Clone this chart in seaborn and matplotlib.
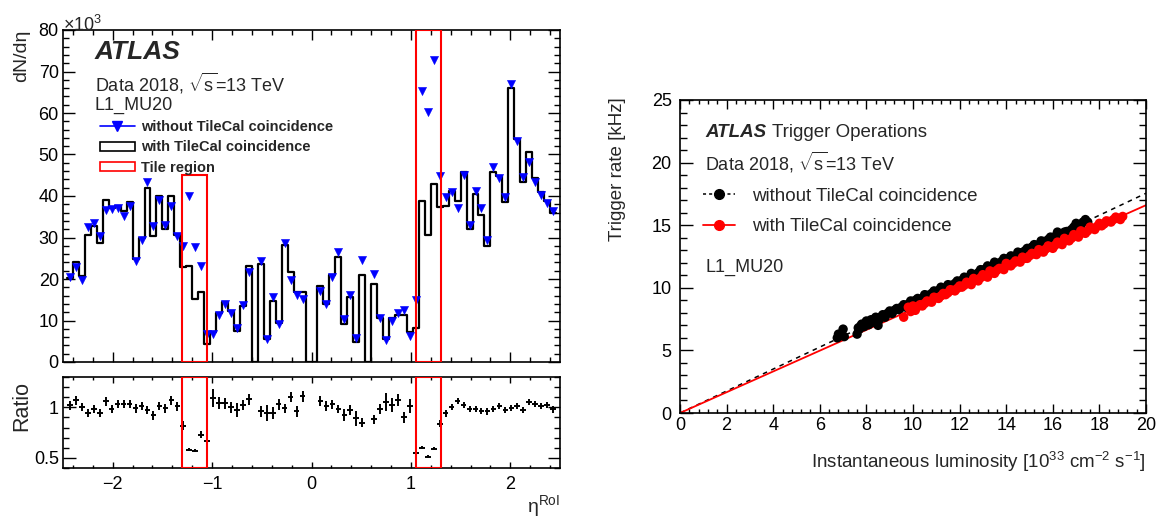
import numpy as np
import pandas as pd
import seaborn as sns
import matplotlib.pyplot as plt
from matplotlib.lines import Line2D
from matplotlib.patches import Patch, Rectangle
from matplotlib.ticker import MultipleLocator, FormatStrFormatter

# eta^RoI binning: 82 bins of 0.06 between -2.46 and 2.46
eta_edges = np.round(np.arange(-2.46, 2.4601, 0.06), 3)
eta_centers = 0.5 * (eta_edges[:-1] + eta_edges[1:])

# dN/deta [x10^3] with TileCal coincidence (black histogram)
with_tile = [20.2, 24.2, 20.7, 30.7, 32.7, 28.7, 39.0, 37.0, 37.5, 36.5,
             38.5, 24.8, 29.8, 42.0, 30.3, 39.9, 32.1, 39.9, 30.6, 22.8,
             23.1, 15.2, 16.8, 4.3, 7.3, 11.9, 14.4, 12.2, 7.5, 13.5,
             23.2, 0.0, 23.6, 5.5, 14.8, 9.5, 28.1, 21.6, 16.8, 16.8,
             0.0, 0.0, 18.4, 14.0, 21.0, 25.4, 9.1, 15.6, 4.8, 21.0,
             0.0, 18.8, 10.7, 5.5, 10.7, 11.4, 11.4, 7.3, 8.1, 38.9,
             30.6, 42.9, 37.4, 37.7, 41.3, 38.9, 45.9, 32.0, 40.5, 35.5,
             28.0, 45.9, 44.9, 38.5, 66.0, 53.8, 43.3, 50.6, 44.3, 40.9,
             38.9, 36.0]

# dN/deta [x10^3] without TileCal coincidence (blue triangles)
nan = np.nan
without_tile = [20.6, 22.8, 19.8, 32.5, 33.5, 30.3, 36.7, 36.8, 37.1, 35.1,
                37.7, 24.4, 29.4, 43.4, 32.7, 39.1, 33.1, 37.6, 30.3, 27.9,
                40.0, 27.7, 23.2, 6.7, 6.7, 11.4, 14.0, 11.9, 8.3, 13.7,
                21.6, nan, 24.4, 5.5, 15.7, 9.1, 28.6, 19.8, 16.1, 15.3,
                nan, nan, 17.2, 14.0, 20.4, 26.5, 10.3, 16.2, 5.7, 24.6,
                nan, 21.2, 10.7, 5.3, 9.8, 11.7, 12.6, 6.3, 15.0, 65.3,
                60.2, 72.7, 44.9, 39.7, 41.0, 37.1, 45.1, 33.1, 41.3, 37.1,
                29.4, 47.1, 44.4, 39.8, 67.1, 53.2, 44.5, 48.1, 43.3, 40.3,
                38.2, 36.3]

# ratio panel
ratio = [1.02, 1.07, 1.00, 0.94, 0.98, 0.94, 1.06, 0.98, 1.03, 1.03,
         1.03, 0.99, 1.01, 0.97, 0.92, 1.01, 0.99, 1.07, 1.01, 0.82,
         0.58, 0.57, 0.73, 0.67, 1.09, 1.04, 1.04, 1.00, 0.97, 1.02,
         1.08, nan, 0.96, 0.94, 0.94, 1.03, 0.99, 1.10, 0.96, 1.11,
         nan, nan, 1.06, 1.01, 1.03, 0.98, 0.92, 0.97, 0.89, 0.85,
         nan, 0.88, 0.98, 1.05, 1.02, 1.07, 0.90, 1.01, 0.55, 0.60,
         0.51, 0.59, 0.84, 0.94, 1.00, 1.06, 1.02, 0.98, 0.98, 0.96,
         0.96, 0.98, 1.01, 0.97, 0.99, 1.01, 0.97, 1.05, 1.03, 1.01,
         1.02, 0.98]
ratio_err = [0.045, 0.045, 0.04, 0.04, 0.04, 0.04, 0.045, 0.04, 0.04, 0.04,
             0.04, 0.045, 0.04, 0.04, 0.045, 0.04, 0.045, 0.045, 0.045, 0.04,
             0.015, 0.015, 0.035, 0.06, 0.09, 0.06, 0.055, 0.055, 0.07, 0.05,
             0.055, 0.0, 0.055, 0.08, 0.06, 0.055, 0.045, 0.05, 0.055, 0.055,
             0.0, 0.0, 0.05, 0.05, 0.045, 0.04, 0.06, 0.05, 0.07, 0.04,
             0.0, 0.04, 0.05, 0.09, 0.07, 0.06, 0.05, 0.07, 0.015, 0.015,
             0.015, 0.015, 0.035, 0.033, 0.03, 0.03, 0.03, 0.03, 0.03, 0.03,
             0.033, 0.03, 0.03, 0.03, 0.03, 0.03, 0.03, 0.03, 0.03, 0.03,
             0.03, 0.033]

# Tile regions in eta
tile_lo = [-1.3, 1.05]
tile_hi = [-1.05, 1.3]
tile_top = [45, 80]

# trigger rate vs luminosity (per lumi block)
lumi_without = [6.75, 6.8, 7.0, 7.05, 7.6, 7.65, 7.7, 7.8, 7.9, 8.0,
                8.1, 8.2, 8.3, 8.4, 8.5, 8.55, 8.7, 8.8, 9.0, 9.1,
                9.3, 9.4, 9.6, 9.7, 9.9, 10.0, 10.2, 10.4, 10.5, 10.7,
                10.9, 11.0, 11.2, 11.4, 11.5, 11.7, 11.9, 12.0, 12.2, 12.4,
                12.5, 12.7, 12.9, 13.0, 13.2, 13.4, 13.5, 13.7, 13.9, 14.0,
                14.2, 14.4, 14.5, 14.7, 14.9, 15.0, 15.2, 15.4, 15.5, 15.7,
                15.9, 16.0, 16.2, 16.3, 16.5, 16.7, 16.9, 17.0, 17.1, 17.3,
                17.4, 17.5,
                7.75, 7.95, 8.15, 8.35, 8.65, 8.9, 9.2, 9.5, 9.8, 10.1,
                10.3, 10.6, 10.8, 11.1, 11.3, 11.6, 11.8, 12.1, 12.3, 12.6,
                12.8, 13.1, 13.3, 13.6, 13.8, 14.1, 14.3, 14.6, 14.8, 15.1,
                15.3, 15.6, 15.8, 16.1, 16.4, 16.6, 16.8, 17.2]
rate_without = [6.0, 6.3, 6.7, 6.1, 6.3, 6.8, 6.7, 7.1, 6.9, 7.35,
                7.05, 7.45, 7.25, 7.65, 7.0, 7.45, 7.85, 7.65, 8.15, 7.95,
                8.35, 8.25, 8.65, 8.45, 8.95, 8.75, 9.15, 9.05, 9.45, 9.25,
                9.75, 9.55, 10.05, 9.85, 10.25, 10.15, 10.55, 10.45, 10.85, 10.75,
                11.15, 10.95, 11.45, 11.25, 11.75, 11.55, 12.05, 11.85, 12.35, 12.15,
                12.55, 12.45, 12.85, 12.75, 13.15, 13.05, 13.45, 13.35, 13.75, 13.65,
                14.05, 13.85, 14.45, 14.05, 14.45, 14.35, 14.85, 15.15, 14.65, 15.25,
                15.45, 15.25,
                6.95, 7.15, 7.3, 7.5, 7.7, 7.95, 8.2, 8.45, 8.7, 9.0,
                9.1, 9.4, 9.55, 9.8, 9.95, 10.2, 10.35, 10.6, 10.8, 11.05,
                11.2, 11.5, 11.65, 11.95, 12.1, 12.35, 12.5, 12.8, 12.95, 13.25,
                13.4, 13.7, 13.85, 14.1, 14.3, 14.5, 14.65, 15.0]
lumi_with = [9.6, 9.8, 9.9, 10.0, 10.1, 10.3, 10.4, 10.6, 10.8, 10.9,
             11.1, 11.3, 11.4, 11.6, 11.8, 12.0, 12.1, 12.3, 12.5, 12.6,
             12.8, 13.0, 13.2, 13.3, 13.5, 13.7, 13.9, 14.0, 14.2, 14.4,
             14.6, 14.7, 14.9, 15.1, 15.3, 15.4, 15.6, 15.8, 16.0, 16.2,
             16.4, 16.5, 16.7, 16.9, 17.1, 17.2, 17.4, 17.6, 17.8, 18.0,
             18.1, 18.3, 18.5, 18.7, 18.9, 19.0,
             9.85, 10.05, 10.2, 10.5, 10.7, 11.0, 11.2, 11.5, 11.7, 11.9,
             12.2, 12.4, 12.7, 12.9, 13.1, 13.4, 13.6, 13.8, 14.1, 14.3,
             14.5, 14.8, 15.0, 15.2, 15.5, 15.7, 15.9, 16.1, 16.3, 16.6,
             16.8, 17.0, 17.3, 17.5, 17.7, 17.9, 18.2, 18.4, 18.6, 18.8]
rate_with = [7.65, 8.45, 8.1, 8.55, 8.2, 8.65, 8.55, 8.95, 8.85, 9.25,
             9.15, 9.55, 9.45, 9.85, 9.75, 10.15, 10.05, 10.45, 10.25, 10.75,
             10.55, 11.05, 10.85, 11.35, 11.15, 11.55, 11.45, 11.95, 11.75, 12.15,
             12.05, 12.45, 12.35, 12.75, 12.65, 13.05, 12.85, 13.35, 13.15, 13.65,
             13.45, 13.95, 13.75, 14.25, 14.05, 14.55, 14.35, 14.85, 14.65, 15.15,
             14.95, 15.35, 15.25, 15.65, 15.45, 15.7,
             8.35, 8.4, 8.5, 8.75, 8.9, 9.2, 9.35, 9.6, 9.8, 9.95,
             10.2, 10.35, 10.6, 10.8, 10.95, 11.2, 11.4, 11.55, 11.8, 11.95,
             12.1, 12.35, 12.55, 12.7, 12.9, 13.1, 13.25, 13.4, 13.55, 13.8,
             13.95, 14.15, 14.4, 14.55, 14.75, 14.9, 15.1, 15.3, 15.45, 15.55]
fit_lumi = [0.0, 20.0]
fit_without = [0.0, 17.55]
fit_with = [0.0, 16.6]

sns.set_style("ticks")
plt.rcParams["font.family"] = ["Liberation Sans", "DejaVu Sans"]
plt.rcParams["mathtext.fontset"] = "custom"
plt.rcParams["mathtext.rm"] = "Liberation Sans"
plt.rcParams["mathtext.it"] = "Liberation Sans:italic"
plt.rcParams["mathtext.bf"] = "Liberation Sans:bold"

W, H = 1158, 519
fig = plt.figure(figsize=(W / 100, H / 100), dpi=100)


def px_axes(x0, y0, x1, y1):
    return fig.add_axes([x0 / W, 1 - y1 / H, (x1 - x0) / W, (y1 - y0) / H])


ax_top = px_axes(63, 30, 560, 362)
ax_rat = px_axes(63, 377, 560, 468)
ax_r = px_axes(680, 100, 1146, 413)

df = pd.DataFrame({"eta": eta_centers, "with": with_tile, "without": without_tile,
                   "ratio": ratio, "err": ratio_err})

# ---- left: eta distribution
sns.histplot(data=df, x="eta", weights="with", bins=eta_edges.tolist(), element="step",
             fill=False, color="black", linewidth=1.6, ax=ax_top)
sns.scatterplot(data=df, x="eta", y="without", marker="v", color="blue", s=34,
                edgecolor="blue", linewidth=0.4, ax=ax_top, zorder=3)
for lo, hi, top in zip(tile_lo, tile_hi, tile_top):
    ax_top.add_patch(Rectangle((lo, 0), hi - lo, top, fill=False, ec="red", lw=1.5, zorder=4))
    ax_rat.add_patch(Rectangle((lo, 0.4), hi - lo, 0.9, fill=False, ec="red", lw=1.5, zorder=4))

ax_top.set_xlim(-2.5, 2.5)
ax_top.set_ylim(0, 80)
ax_top.xaxis.set_major_locator(MultipleLocator(1))
ax_top.xaxis.set_minor_locator(MultipleLocator(0.2))
ax_top.yaxis.set_major_locator(MultipleLocator(10))
ax_top.yaxis.set_minor_locator(MultipleLocator(2))
ax_top.tick_params(labelbottom=False)

ax_top.text(0.064, 0.934, "ATLAS", transform=ax_top.transAxes, fontsize=19,
            fontweight="bold", fontstyle="italic", va="center")
ax_top.text(0.064, 0.840, r"Data 2018, $\sqrt{\mathrm{s}}$=13 TeV", transform=ax_top.transAxes,
            fontsize=13, va="center")
ax_top.text(0.064, 0.772, "L1_MU20", transform=ax_top.transAxes, fontsize=13, va="center")
handles = [Line2D([], [], color="blue", marker="v", ms=7, lw=1.2),
           Patch(facecolor="none", edgecolor="black", lw=1.2),
           Patch(facecolor="none", edgecolor="red", lw=1.2)]
labels = ["without TileCal coincidence", "with TileCal coincidence", "Tile region"]
ax_top.legend(handles, labels, loc="upper left", bbox_to_anchor=(0.074, 0.728),
              frameon=False, prop={"size": 10.5, "weight": "bold"}, handlelength=2.4,
              handleheight=0.6, handletextpad=0.45, labelspacing=0.42, borderpad=0,
              borderaxespad=0)

# ---- left: ratio
ax_rat.errorbar(df["eta"], df["ratio"], yerr=df["err"], xerr=0.028, fmt="none",
                ecolor="black", elinewidth=1.4)
ax_rat.set_xlim(-2.5, 2.5)
ax_rat.set_ylim(0.4, 1.3)
ax_rat.xaxis.set_major_locator(MultipleLocator(1))
ax_rat.xaxis.set_minor_locator(MultipleLocator(0.2))
ax_rat.yaxis.set_major_locator(MultipleLocator(0.5))
ax_rat.yaxis.set_minor_locator(MultipleLocator(0.1))
ax_rat.yaxis.set_major_formatter(FormatStrFormatter("%g"))

# ---- right: rate vs luminosity
sns.lineplot(x=fit_lumi, y=fit_without, color="black", linestyle=(0, (3, 3)), lw=1.1, ax=ax_r)
sns.lineplot(x=fit_lumi, y=fit_with, color="red", lw=1.3, ax=ax_r)
sns.scatterplot(x=lumi_without, y=rate_without, color="black", s=46, edgecolor="none", ax=ax_r, zorder=3)
sns.scatterplot(x=lumi_with, y=rate_with, color="red", s=46, edgecolor="none", ax=ax_r, zorder=4)
ax_r.set_xlim(0, 20)
ax_r.set_ylim(0, 25)
ax_r.xaxis.set_major_locator(MultipleLocator(2))
ax_r.xaxis.set_minor_locator(MultipleLocator(0.4))
ax_r.yaxis.set_major_locator(MultipleLocator(5))
ax_r.yaxis.set_minor_locator(MultipleLocator(1))

ax_r.text(0.054, 0.895, "ATLAS", transform=ax_r.transAxes, fontsize=13.5,
          fontweight="bold", fontstyle="italic", va="center")
ax_r.text(0.197, 0.895, "Trigger Operations", transform=ax_r.transAxes, fontsize=13.5, va="center")
ax_r.text(0.054, 0.799, r"Data 2018, $\sqrt{\mathrm{s}}$=13 TeV", transform=ax_r.transAxes,
          fontsize=13, va="center")
ax_r.text(0.054, 0.466, "L1_MU20", transform=ax_r.transAxes, fontsize=13, va="center")
rhandles = [Line2D([], [], color="black", ls=(0, (2, 2)), lw=1.1, marker="o", ms=7),
            Line2D([], [], color="red", lw=1.3, marker="o", ms=7)]
ax_r.legend(rhandles, ["without TileCal coincidence", "with TileCal coincidence"],
            loc="upper left", bbox_to_anchor=(0.049, 0.72), frameon=False, fontsize=13.5,
            handlelength=1.7, handletextpad=0.95, labelspacing=0.72, borderpad=0,
            borderaxespad=0)

# ---- ROOT-like frames and ticks
for ax in (ax_top, ax_rat, ax_r):
    ax.set_xlabel("")
    ax.set_ylabel("")
    for s in ax.spines.values():
        s.set_visible(True)
        s.set_linewidth(1.2)
        s.set_color("black")
    ax.tick_params(which="both", direction="in", top=True, right=True, width=1,
                   labelsize=13, colors="black")

ax_top.yaxis.set_tick_params(which="major", length=8.6, pad=3)
ax_top.yaxis.set_tick_params(which="minor", length=4.3)
ax_top.xaxis.set_tick_params(which="major", length=7)
ax_top.xaxis.set_tick_params(which="minor", length=3.5)
ax_rat.yaxis.set_tick_params(which="major", length=9, pad=3)
ax_rat.yaxis.set_tick_params(which="minor", length=4.5)
ax_rat.xaxis.set_tick_params(which="major", length=4.5, pad=6)
ax_rat.xaxis.set_tick_params(which="minor", length=2.3)
ax_r.yaxis.set_tick_params(which="major", length=9.5, pad=6)
ax_r.yaxis.set_tick_params(which="minor", length=4.7)
ax_r.xaxis.set_tick_params(which="major", length=6.5, pad=3)
ax_r.xaxis.set_tick_params(which="minor", length=3.2)

# axis titles placed like ROOT (aligned to the axis ends)
fig.text(22 / W, 1 - 30 / H, "dN/dη", rotation=90, ha="center", va="top", fontsize=14)
fig.text(63 / W, 1 - 31 / H, r"$\times$10$^{3}$", ha="left", va="baseline", fontsize=13)
fig.text(22 / W, 1 - 406 / H, "Ratio", rotation=90, ha="center", va="center", fontsize=15.5)
fig.text(560 / W, 1 - 512 / H, r"η$^{\mathrm{RoI}}$", ha="right", va="baseline", fontsize=14)
fig.text(617 / W, 1 - 97 / H, "Trigger rate [kHz]", rotation=90, ha="center", va="top", fontsize=13.5)
fig.text(1146 / W, 1 - 462 / H, r"Instantaneous luminosity [10$^{33}$ cm$^{-2}$ s$^{-1}$]",
         ha="right", va="center", fontsize=13.5)

fig.savefig("out.png", dpi=100, facecolor="white")
